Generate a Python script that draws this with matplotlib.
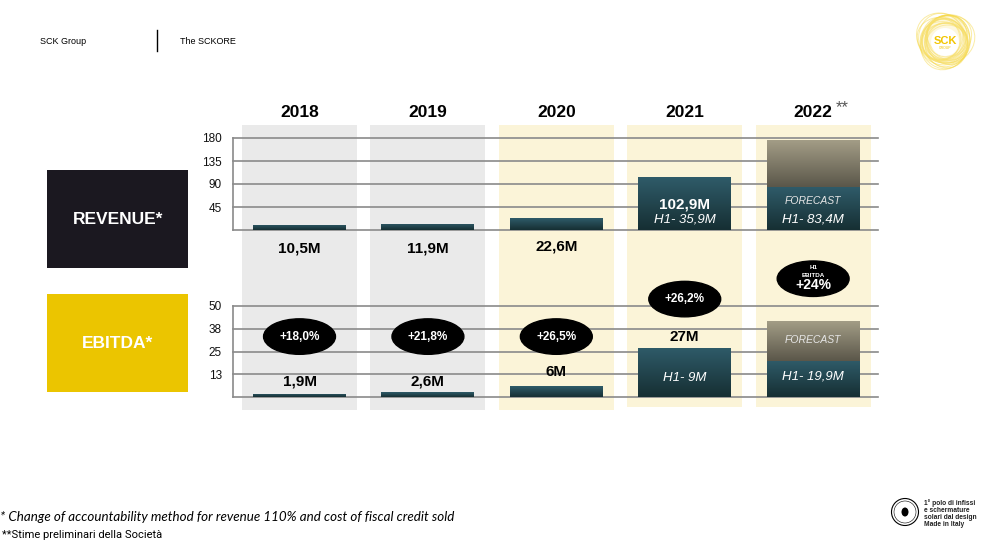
import numpy as np
import matplotlib
matplotlib.use("Agg")
import matplotlib.pyplot as plt
from matplotlib.patches import Rectangle, Ellipse, Circle
from matplotlib.colors import LinearSegmentedColormap

# ---- data -------------------------------------------------------------
years = ["2018", "2019", "2020", "2021", "2022"]
revenue = [10.5, 11.9, 22.6, 102.9, 83.4]      # 2022 = H1 part
revenue_forecast_2022 = 176                     # top of forecast block
revenue_labels = ["10,5M", "11,9M", "22,6M"]
revenue_h1 = ["H1- 35,9M", "H1- 83,4M"]
ebitda = [1.9, 2.6, 6, 27, 19.9]               # 2022 = H1 part
ebitda_forecast_2022 = 42
ebitda_labels = ["1,9M", "2,6M", "6M", "27M"]
ebitda_h1 = ["H1- 9M", "H1- 19,9M"]
margins = ["+18,0%", "+21,8%", "+26,5%", "+26,2%", "+24%"]
rev_ticks = [45, 90, 135, 180]
ebit_ticks = [12.5, 25, 37.5, 50]
ebit_tick_labels = ["13", "25", "38", "50"]

# ---- style -------------------------------------------------------------
W, H = 998, 556
FONT = ["Liberation Sans", "DejaVu Sans"]
plt.rcParams["font.family"] = FONT
BAR_TOP, BAR_BOT = "#2f5b69", "#162f33"
FC_TOP, FC_BOT = "#a49e87", "#5b574a"
GRID = "#8a8a8a"
GRAY_BG, YEL_BG = "#eaeaea", "#fbf4d8"

fig = plt.figure(figsize=(W / 100, H / 100), dpi=100)


def px_axes(x0, y0, x1, y1):
    """axes from pixel box (top-left origin)"""
    return fig.add_axes([x0 / W, 1 - y1 / H, (x1 - x0) / W, (y1 - y0) / H])


XLIM = (-0.518, 4.505)
x = np.arange(len(years))


def gradient(ax, patch, top, bottom):
    x0, y0 = patch.get_xy()
    w, h = patch.get_width(), patch.get_height()
    cmap = LinearSegmentedColormap.from_list("g", [bottom, top])
    im = ax.imshow(np.linspace(0, 1, 64).reshape(-1, 1), extent=[x0, x0 + w, y0, y0 + h],
                   origin="lower", cmap=cmap, aspect="auto", zorder=patch.get_zorder(),
                   interpolation="bilinear")
    im.set_clip_path(patch)


# background columns
bg = px_axes(233, 125, 878, 410)
bg.set_xlim(XLIM)
bg.set_ylim(0, 1)
bg.axis("off")
for i in x:
    c = GRAY_BG if i < 2 else YEL_BG
    bg.axvspan(i - 0.448, i + 0.448, ymin=0 if i < 3 else 0.012, ymax=1, color=c, lw=0)


def setup(ax, ylim, ticks, labels):
    ax.set_facecolor("none")
    ax.set_xlim(XLIM)
    ax.set_ylim(*ylim)
    for s in ["top", "right"]:
        ax.spines[s].set_visible(False)
    for s in ["left", "bottom"]:
        ax.spines[s].set_color(GRID)
        ax.spines[s].set_linewidth(1.2)
    ax.set_xticks([])
    ax.set_yticks(ticks)
    ax.set_yticklabels(labels)
    ax.tick_params(axis="y", length=0, pad=8, labelsize=8.5, labelcolor="#111111")
    for t in ticks:
        ax.axhline(t, color=GRID, lw=1.2, zorder=1, clip_on=False)


# ---- revenue -----------------------------------------------------------
rev = px_axes(233, 138, 878, 230)
setup(rev, (0, 180), rev_ticks, [str(t) for t in rev_ticks])
bars = rev.bar(x, revenue, width=0.724, zorder=3)
for b in bars:
    gradient(rev, b, BAR_TOP, BAR_BOT)
fc = rev.bar(x[4], revenue_forecast_2022 - revenue[4], bottom=revenue[4], width=0.724, zorder=3)
gradient(rev, fc[0], FC_TOP, FC_BOT)
rev.set_xlim(XLIM)
rev.set_ylim(0, 180)

for i, y in zip(x, years):
    rev.text(i, 229, y, ha="center", va="center", fontsize=12.5, fontweight="bold", clip_on=False)
rev.annotate("**", (4, 229), xytext=(16, 4), textcoords="offset points", ha="left", va="center",
             fontsize=12, color="#555555", annotation_clip=False)
for i, lab, yy in zip(x, revenue_labels, [-37, -37, -33]):
    rev.text(i, yy, lab, ha="center", va="center", fontsize=11, fontweight="bold", clip_on=False)
rev.text(3, 49, "102,9M", ha="center", va="center", fontsize=11, fontweight="bold", color="white", zorder=5)
rev.text(3, 20, revenue_h1[0], ha="center", va="center", fontsize=9.5, style="italic", color="white", zorder=5)
rev.text(4, 57, "FORECAST", ha="center", va="center", fontsize=7.5, style="italic", color="#e6e6e6", zorder=5)
rev.text(4, 20, revenue_h1[1], ha="center", va="center", fontsize=9.5, style="italic", color="white", zorder=5)

# ---- ebitda ------------------------------------------------------------
eb = px_axes(233, 306, 878, 397)
setup(eb, (0, 50), ebit_ticks, ebit_tick_labels)
bars = eb.bar(x, ebitda, width=0.724, zorder=3)
for b in bars:
    gradient(eb, b, BAR_TOP, BAR_BOT)
fc = eb.bar(x[4], ebitda_forecast_2022 - ebitda[4], bottom=ebitda[4], width=0.724, zorder=3)
gradient(eb, fc[0], FC_TOP, FC_BOT)
eb.set_xlim(XLIM)
eb.set_ylim(0, 50)

for i, lab, yy in zip(x, ebitda_labels, [8.7, 8.7, 13.6, 33.2]):
    eb.text(i, yy, lab, ha="center", va="center", fontsize=11, fontweight="bold", zorder=5, clip_on=False)
eb.text(3, 10.3, ebitda_h1[0], ha="center", va="center", fontsize=9.5, style="italic", color="white", zorder=5)
eb.text(4, 31.5, "FORECAST", ha="center", va="center", fontsize=7.5, style="italic", color="#e6e6e6", zorder=5)
eb.text(4, 11, ebitda_h1[1], ha="center", va="center", fontsize=9.5, style="italic", color="white", zorder=5)

# margin bubbles
ell_y = [33.2, 33.2, 33.2, 53.8, 65]
for i, m, yy in zip(x, margins, ell_y):
    eb.add_patch(Ellipse((i, yy), 0.56, 19.5, color="black", zorder=6, clip_on=False))
    if i < 4:
        eb.text(i, yy, m, ha="center", va="center", fontsize=8.5, fontweight="bold", color="white",
                zorder=7, clip_on=False)
    else:
        eb.text(i, yy - 3.5, m, ha="center", va="center", fontsize=10, fontweight="bold", color="white",
                zorder=7, clip_on=False)
        eb.text(i, yy + 6, "H1", ha="center", va="center", fontsize=4.5, fontweight="bold", color="white",
                zorder=7, clip_on=False)
        eb.text(i, yy + 2, "EBITDA", ha="center", va="center", fontsize=4.5, fontweight="bold", color="white",
                zorder=7, clip_on=False)

# ---- page decoration ----------------------------------------------------
ov = fig.add_axes([0, 0, 1, 1], facecolor="none")
ov.set_xlim(0, W)
ov.set_ylim(H, 0)
ov.axis("off")

ov.text(40, 41, "SCK Group", fontsize=6.5, va="center")
ov.plot([157, 157], [30, 51], color="black", lw=1)
ov.text(180, 41, "The SCKORE", fontsize=6.5, va="center")

ov.add_patch(Rectangle((47, 170), 141, 98, color="#1b1820", lw=0))
ov.text(118, 220, "REVENUE*", ha="center", va="center", fontsize=12.5, fontweight="bold", color="white")
ov.add_patch(Rectangle((47, 294), 141, 98, color="#ebc500", lw=0))
ov.text(118, 344, "EBITDA*", ha="center", va="center", fontsize=12.5, fontweight="bold", color="white")

# top-right logo: loose ring of thin yellow strokes
for k in range(22):
    a = k * 8.2
    w = 40 + (k % 5) * 4
    ov.add_patch(Ellipse((945 + 2.5 * np.cos(k), 40 + 2.5 * np.sin(k)), w, w * 0.85, angle=a,
                         fill=False, ec="#f6d94a", lw=0.7, alpha=0.5))
ov.add_patch(Ellipse((945, 40), 50, 46, color="#fbeaa0", alpha=0.35, lw=0))
ov.add_patch(Circle((945, 42), 14, color="white", lw=0))
ov.text(945, 41, "SCK", ha="center", va="center", fontsize=8, fontweight="bold", color="#f2c500")
ov.text(945, 48, "GROUP", ha="center", va="center", fontsize=2.5, color="#f2c500")

# footnotes
ov.text(0, 517, "* Change of accountability method for revenue 110% and cost of fiscal credit sold",
        fontsize=9.6, style="italic", family=["Lato", "DejaVu Sans"], va="center")
ov.text(2, 535, "**Stime preliminari della Società", fontsize=8, family=["Roboto", "DejaVu Sans"],
        va="center")

# bottom-right mark
ov.add_patch(Circle((905, 512), 13.5, fill=False, ec="black", lw=0.8))
ov.add_patch(Circle((905, 512), 11, fill=False, ec="black", lw=0.4))
ov.add_patch(Ellipse((905, 512), 7, 9, color="black", lw=0))
for j, line in enumerate(["1° polo di infissi", "e schermature", "solari dal design", "Made in Italy"]):
    ov.text(924, 502.7 + j * 7.4, line, fontsize=4.8, va="center", fontweight="bold", color="#222222")

fig.savefig("out.png", dpi=100)
